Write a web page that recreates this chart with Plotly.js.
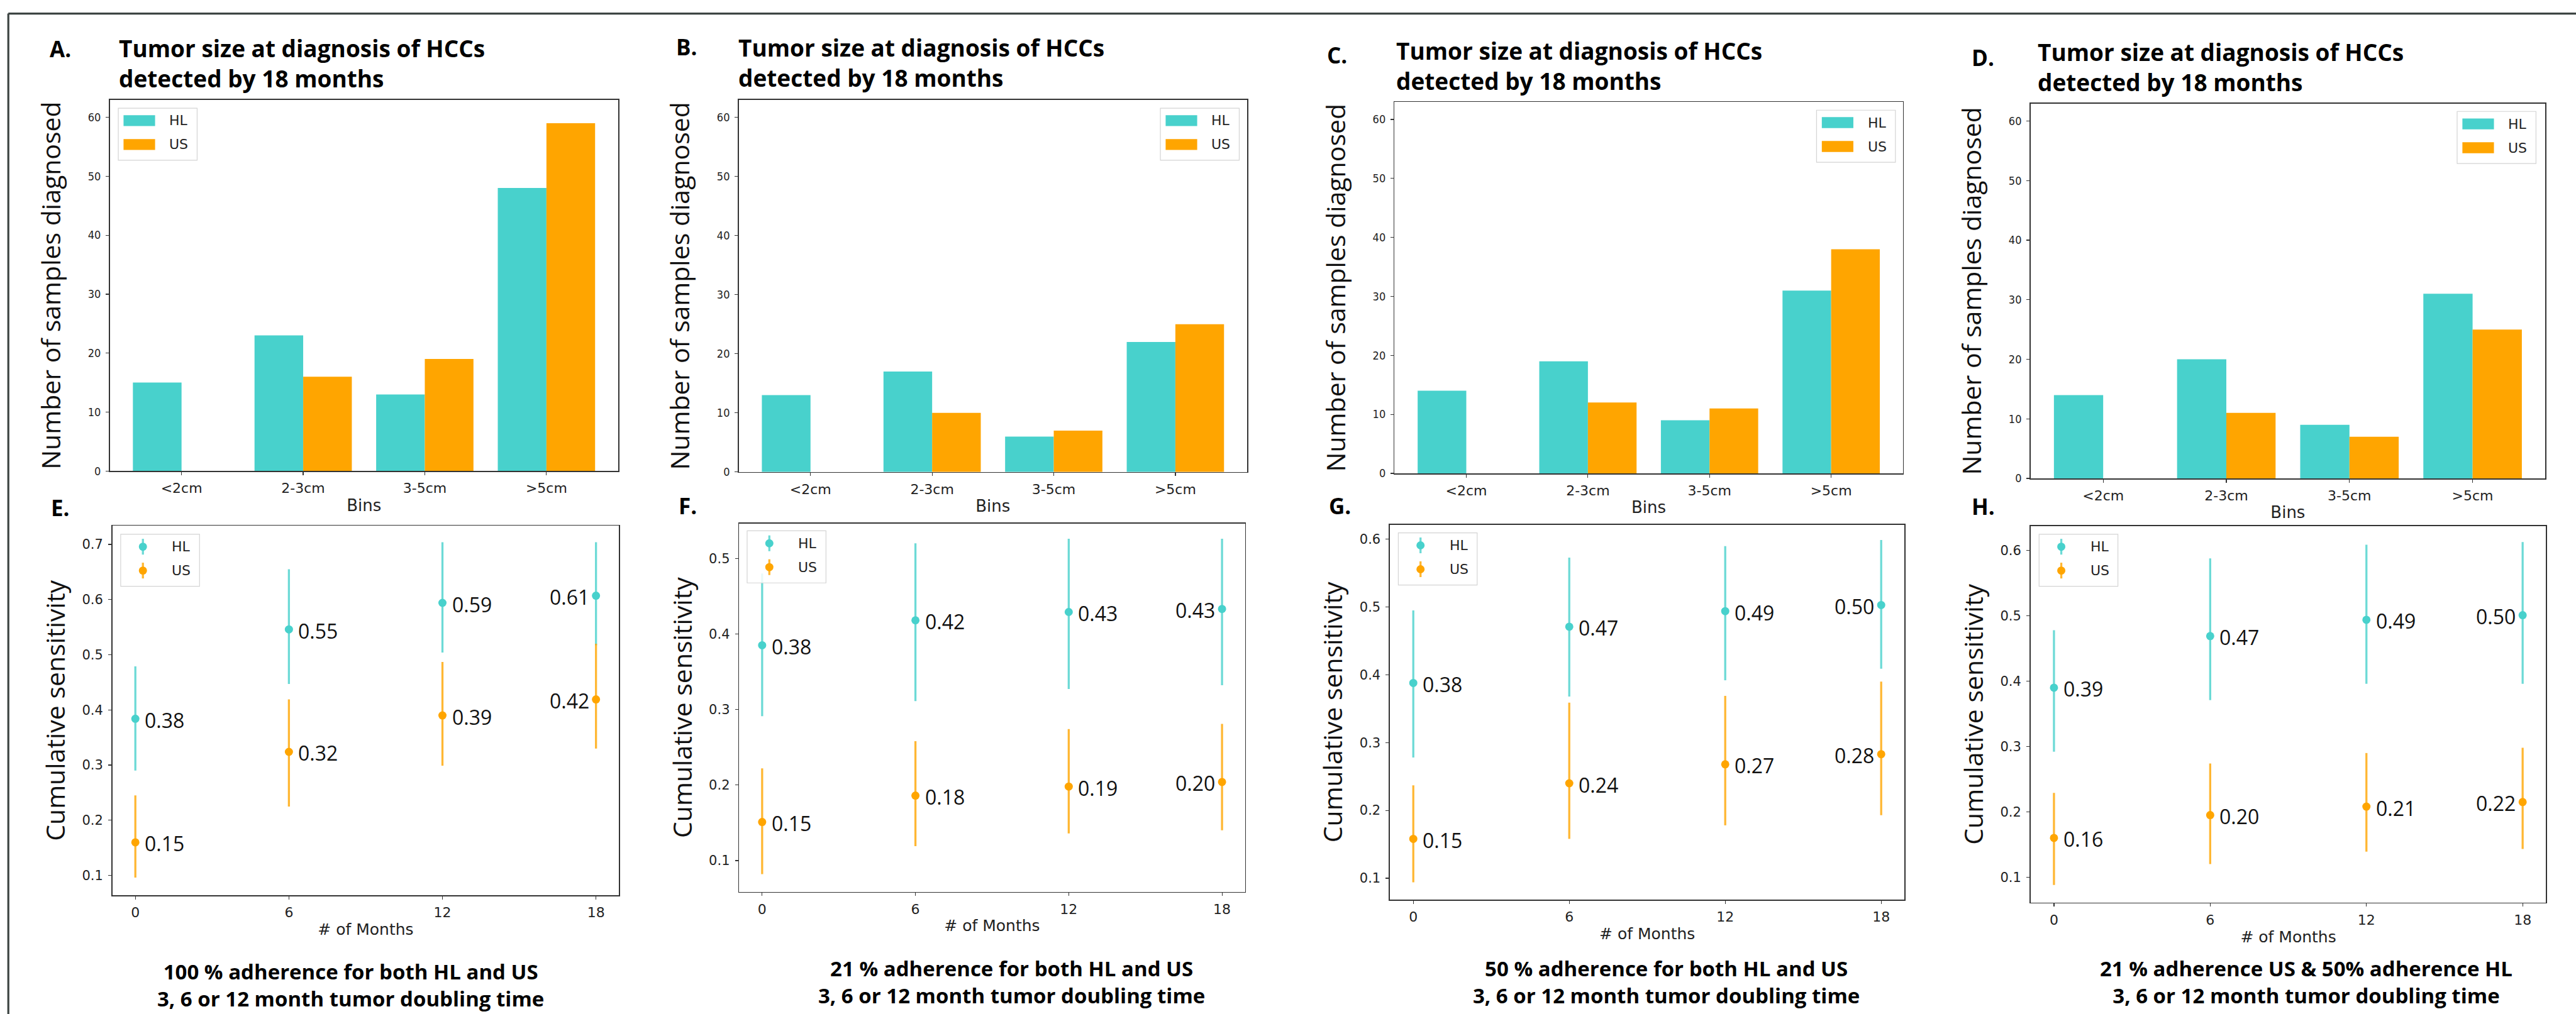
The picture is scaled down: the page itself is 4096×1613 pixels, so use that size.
<!DOCTYPE html>
<html>
<head>
<meta charset="utf-8">
<script src="https://cdn.plot.ly/plotly-3.0.1.min.js"></script>
<style>
html,body{margin:0;padding:0;background:#ffffff;}
#chart{width:4096px;height:1613px;}
</style>
</head>
<body>
<div id="chart"></div>
<script>
// ================= DATA =================
const bins = ['<2cm', '2-3cm', '3-5cm', '>5cm'];
const seriesNames = ['HL', 'US'];
const months = [0, 6, 12, 18];

// Panel A-D: number of samples diagnosed per tumour-size bin
const hlCountsA = [15, 23, 13, 48];
const usCountsA = [0, 16, 19, 59];
const hlCountsB = [13, 17, 6, 22];
const usCountsB = [0, 10, 7, 25];
const hlCountsC = [14, 19, 9, 31];
const usCountsC = [0, 12, 11, 38];
const hlCountsD = [14, 20, 9, 31];
const usCountsD = [0, 11, 7, 25];

// Panel E-H: cumulative sensitivity (point, upper, lower, label)
const hlSensE = [0.384, 0.546, 0.594, 0.607];
const hlUpE   = [0.479, 0.655, 0.704, 0.704];
const hlLoE   = [0.290, 0.447, 0.504, 0.517];
const hlLabE  = ['0.38', '0.55', '0.59', '0.61'];
const usSensE = [0.160, 0.324, 0.390, 0.419];
const usUpE   = [0.245, 0.419, 0.487, 0.520];
const usLoE   = [0.096, 0.225, 0.299, 0.330];
const usLabE  = ['0.15', '0.32', '0.39', '0.42'];

const hlSensF = [0.385, 0.418, 0.429, 0.433];
const hlUpF   = [0.480, 0.520, 0.526, 0.526];
const hlLoF   = [0.291, 0.311, 0.327, 0.332];
const hlLabF  = ['0.38', '0.42', '0.43', '0.43'];
const usSensF = [0.151, 0.186, 0.198, 0.204];
const usUpF   = [0.222, 0.258, 0.274, 0.281];
const usLoF   = [0.082, 0.119, 0.136, 0.140];
const usLabF  = ['0.15', '0.18', '0.19', '0.20'];

const hlSensG = [0.388, 0.471, 0.494, 0.503];
const hlUpG   = [0.495, 0.573, 0.590, 0.599];
const hlLoG   = [0.278, 0.368, 0.392, 0.409];
const hlLabG  = ['0.38', '0.47', '0.49', '0.50'];
const usSensG = [0.158, 0.240, 0.268, 0.283];
const usUpG   = [0.237, 0.359, 0.369, 0.390];
const usLoG   = [0.094, 0.158, 0.178, 0.193];
const usLabG  = ['0.15', '0.24', '0.27', '0.28'];

const hlSensH = [0.390, 0.469, 0.494, 0.501];
const hlUpH   = [0.478, 0.588, 0.609, 0.613];
const hlLoH   = [0.292, 0.371, 0.396, 0.396];
const hlLabH  = ['0.39', '0.47', '0.49', '0.50'];
const usSensH = [0.160, 0.195, 0.208, 0.215];
const usUpH   = [0.229, 0.274, 0.290, 0.298];
const usLoH   = [0.088, 0.120, 0.139, 0.143];
const usLabH  = ['0.16', '0.20', '0.21', '0.22'];

// Texts
const panelLetters = ['A.', 'B.', 'C.', 'D.', 'E.', 'F.', 'G.', 'H.'];
const barTitleLines = ['Tumor size at diagnosis of HCCs', 'detected by 18 months'];
const captionLines = [
  ['100 % adherence for both HL and US', '3, 6 or 12 month tumor doubling time'],
  ['21 % adherence for both HL and US', '3, 6 or 12 month tumor doubling time'],
  ['50 % adherence for both HL and US', '3, 6 or 12 month tumor doubling time'],
  ['21 % adherence US & 50% adherence HL', '3, 6 or 12 month tumor doubling time']
];
const barXTitle = 'Bins';
const barYTitle = 'Number of samples diagnosed';
const sensXTitle = '# of Months';
const sensYTitle = 'Cumulative sensitivity';

// ================= STYLE / GEOMETRY =================
const HL_COLOR = '#48D1CC';
const US_COLOR = '#FFA500';
const HL_ERR = 'rgba(72,209,204,0.8)';
const US_ERR = 'rgba(255,165,0,0.8)';
const FW = 5880, FH = 2316;           // reference frame (px)
const px = x => x / FW;
const py = y => 1 - y / FH;
const TITLE_FONT = 'Open Sans';
const TICK_FONT = 'DejaVu Sans';

// plot-area boxes in reference px: [left, right, top, bottom]
const boxes = [
  [250.6, 1411.1, 228.1, 1075.9],
  [1686.3, 2846.7, 228.1, 1078.1],
  [3183.2, 4343.6, 233.2, 1081.1],
  [4634.9, 5809.8, 236.2, 1092.8],
  [256.4, 1413.0, 1200.8, 2045.3],
  [1687.2, 2841.9, 1195.4, 2036.8],
  [3172.6, 4347.4, 1198.5, 2054.7],
  [4634.9, 5811.7, 1201.6, 2061.6]
];
const sensRanges = [[0.0637, 0.7338], [0.0587, 0.5463], [0.0684, 0.6215], [0.061, 0.6374]];
const legendBoxes = [[270, 247], [2648.7, 247], [4146.5, 251.6], [5608.7, 254.5],
                     [275.5, 1220.2], [1705.4, 1212.4], [3191.8, 1217.1], [4654.4, 1220.2]];
const letterPos = [[110, 111], [1541, 107], [3026, 125], [4498, 132],
                   [113, 1160], [1545.7, 1155], [3031, 1155], [4498, 1156]];
const titlePos = [[268, 144], [1682.5, 143], [3184, 150], [4647.6, 153]];
const captionPos = [[800, 2249.7], [2308.6, 2242.7], [3804, 2242.7], [5264.8, 2242.7]];

const barData = [[hlCountsA, usCountsA], [hlCountsB, usCountsB], [hlCountsC, usCountsC], [hlCountsD, usCountsD]];
const sensData = [
  {hl: [hlSensE, hlUpE, hlLoE, hlLabE], us: [usSensE, usUpE, usLoE, usLabE]},
  {hl: [hlSensF, hlUpF, hlLoF, hlLabF], us: [usSensF, usUpF, usLoF, usLabF]},
  {hl: [hlSensG, hlUpG, hlLoG, hlLabG], us: [usSensG, usUpG, usLoG, usLabG]},
  {hl: [hlSensH, hlUpH, hlLoH, hlLabH], us: [usSensH, usUpH, usLoH, usLabH]}
];

const traces = [];
const annotations = [];
const shapes = [];
const layout = {
  width: 4096, height: 1613,
  margin: {l: 0, r: 0, t: 0, b: 0},
  paper_bgcolor: '#ffffff', plot_bgcolor: '#ffffff',
  showlegend: false,
  barmode: 'group', bargap: 0.2, bargroupgap: 0,
  font: {family: TICK_FONT, color: '#222'}
};

function axisBase() {
  return {showline: true, mirror: true, linecolor: '#333', linewidth: 1.6,
          ticks: 'outside', ticklen: 5, tickwidth: 1.2, tickcolor: '#333',
          showgrid: false, zeroline: false, fixedrange: true};
}
const suffix = i => (i === 0 ? '' : String(i + 1));

// ---- bar panels ----
barData.forEach((pair, i) => {
  const n = suffix(i);
  pair.forEach((vals, s) => {
    traces.push({type: 'bar', x: bins, y: vals, name: seriesNames[s],
      marker: {color: s === 0 ? HL_COLOR : US_COLOR, line: {width: 0}},
      xaxis: 'x' + n, yaxis: 'y' + n, hoverinfo: 'skip'});
  });
  const b = boxes[i];
  layout['xaxis' + n] = Object.assign(axisBase(), {
    type: 'category', range: [-0.59, 3.59], domain: [px(b[0]), px(b[1])], anchor: 'y' + n,
    tickfont: {family: TICK_FONT, size: 22, color: '#222'}, ticklabelstandoff: 2,
    title: {text: barXTitle, font: {family: TICK_FONT, size: 26, color: '#222'}, standoff: 6}
  });
  layout['yaxis' + n] = Object.assign(axisBase(), {
    range: [0, 62.95], domain: [py(b[3]), py(b[2])], anchor: 'x' + n,
    tickvals: [0, 10, 20, 30, 40, 50, 60],
    tickfont: {family: 'DejaVu Sans Condensed, DejaVu Sans', size: 18, color: '#222'}, ticklabelstandoff: 4,
    title: {text: barYTitle, font: {family: TITLE_FONT, size: 41, color: '#111'}, standoff: 30}
  });
});

// ---- sensitivity panels ----
sensData.forEach((p, j) => {
  const i = j + 4;
  const n = suffix(i);
  [[p.hl, HL_COLOR, HL_ERR, 0], [p.us, US_COLOR, US_ERR, 1]].forEach(([d, col, ecol, s]) => {
    const [val, up, lo, lab] = d;
    traces.push({type: 'scatter', mode: 'markers', x: months, y: val, name: seriesNames[s],
      marker: {size: 13, color: col},
      error_y: {type: 'data', symmetric: false,
        array: up.map((u, k) => u - val[k]), arrayminus: val.map((v, k) => v - lo[k]),
        thickness: 3.3, width: 0, color: ecol},
      xaxis: 'x' + n, yaxis: 'y' + n, hoverinfo: 'skip'});
    val.forEach((v, k) => {
      const last = k === months.length - 1;
      annotations.push({xref: 'x' + n, yref: 'y' + n, x: months[k], y: v, text: lab[k],
        showarrow: false, xanchor: last ? 'right' : 'left', yanchor: 'middle',
        xshift: last ? -9 : 13, yshift: -2,
        font: {family: TITLE_FONT, size: 32, color: '#111'}});
    });
  });
  const b = boxes[i];
  layout['xaxis' + n] = Object.assign(axisBase(), {
    range: [-0.9, 18.9], domain: [px(b[0]), px(b[1])], anchor: 'y' + n,
    tickvals: months, tickfont: {family: TICK_FONT, size: 22, color: '#222'}, ticklabelstandoff: 2,
    title: {text: sensXTitle, font: {family: TICK_FONT, size: 25, color: '#222'}, standoff: 6}
  });
  layout['yaxis' + n] = Object.assign(axisBase(), {
    range: sensRanges[j], domain: [py(b[3]), py(b[2])], anchor: 'x' + n,
    tick0: 0, dtick: 0.1, tickformat: '.1f',
    tickfont: {family: TICK_FONT, size: 21, color: '#222'}, ticklabelstandoff: 4,
    title: {text: sensYTitle, font: {family: TITLE_FONT, size: 41, color: '#111'}, standoff: 14}
  });
});

// ---- legends (drawn per panel) ----
legendBoxes.forEach(([L, T], i) => {
  const Wb = 180, Hb = 119;
  shapes.push({type: 'rect', xref: 'paper', yref: 'paper', x0: px(L), x1: px(L + Wb), y0: py(T + Hb), y1: py(T),
    line: {color: '#d4d4d4', width: 1.2}, fillcolor: 'rgba(255,255,255,0.85)', layer: 'above'});
  const rows = [[T + 28.5, HL_COLOR, HL_ERR], [T + 83, US_COLOR, US_ERR]];
  rows.forEach(([cy, col, ecol], s) => {
    if (i < 4) {
      shapes.push({type: 'rect', xref: 'paper', yref: 'paper', x0: px(L + 12), x1: px(L + 84),
        y0: py(cy + 12.5), y1: py(cy - 12.5), line: {width: 0}, fillcolor: col, layer: 'above'});
    } else {
      const cx = L + 50.7, r = 9.3;
      shapes.push({type: 'line', xref: 'paper', yref: 'paper', x0: px(cx), x1: px(cx),
        y0: py(cy + 18), y1: py(cy - 18), line: {color: ecol, width: 3.3}, layer: 'above'});
      shapes.push({type: 'circle', xref: 'paper', yref: 'paper', x0: px(cx - r), x1: px(cx + r),
        y0: py(cy + r), y1: py(cy - r), line: {width: 0}, fillcolor: col, layer: 'above'});
    }
    annotations.push({xref: 'paper', yref: 'paper', x: px(L + 114), y: py(cy), text: seriesNames[s],
      showarrow: false, xanchor: 'left', yanchor: 'middle',
      font: {family: TICK_FONT, size: 22, color: '#222'}});
  });
});

// ---- panel letters, titles, captions ----
letterPos.forEach(([x, y], i) => {
  annotations.push({xref: 'paper', yref: 'paper', x: px(x), y: py(y), text: panelLetters[i],
    showarrow: false, xanchor: 'left', yanchor: 'middle',
    font: {family: TITLE_FONT, size: 35, weight: 700, color: '#000'}});
});
titlePos.forEach(([x, y]) => {
  annotations.push({xref: 'paper', yref: 'paper', x: px(x), y: py(y), text: barTitleLines.join('<br>'),
    showarrow: false, xanchor: 'left', yanchor: 'middle', align: 'left',
    font: {family: TITLE_FONT, size: 37, weight: 700, color: '#000'}});
});
captionPos.forEach(([x, y], j) => {
  annotations.push({xref: 'paper', yref: 'paper', x: px(x), y: py(y), text: captionLines[j].join('<br>'),
    showarrow: false, xanchor: 'center', yanchor: 'middle', align: 'center',
    font: {family: TITLE_FONT, size: 33, weight: 700, color: '#000'}});
});

// ---- outer frame (top and left edges) ----
shapes.push({type: 'line', xref: 'paper', yref: 'paper', x0: px(19), x1: 1, y0: py(31), y1: py(31),
  line: {color: '#3d4543', width: 3.2}});
shapes.push({type: 'line', xref: 'paper', yref: 'paper', x0: px(19), x1: px(19), y0: py(31), y1: 0,
  line: {color: '#3d4543', width: 3.2}});

layout.annotations = annotations;
layout.shapes = shapes;

Plotly.newPlot('chart', traces, layout, {staticPlot: true, displayModeBar: false});
</script>
</body>
</html>
